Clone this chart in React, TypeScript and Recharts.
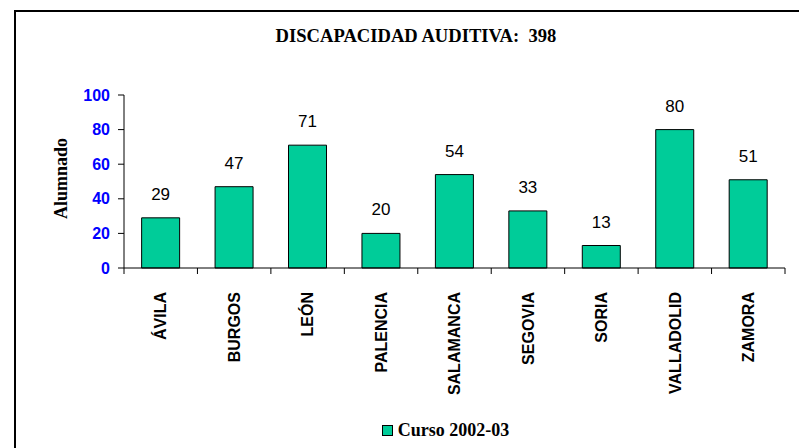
import React from 'react';
import { BarChart, Bar, XAxis, YAxis, LabelList, Legend, Label } from 'recharts';

const provinces = ['ÁVILA', 'BURGOS', 'LEÓN', 'PALENCIA', 'SALAMANCA', 'SEGOVIA', 'SORIA', 'VALLADOLID', 'ZAMORA'];
const alumnado = [29, 47, 71, 20, 54, 33, 13, 80, 51];
const yTicks = [0, 20, 40, 60, 80, 100];
const boundaryTicks = [0, 1, 2, 3, 4, 5, 6, 7, 8, 9];
const seriesName = 'Curso 2002-03';
const title = 'DISCAPACIDAD AUDITIVA:  398';
const yLabel = 'Alumnado';

const data = provinces.map((p, i) => ({ province: p, value: alumnado[i], pos: i + 0.5 }));

const SANS = '"Liberation Sans", Arial, sans-serif';
const SERIF = '"Liberation Serif", "Times New Roman", serif';
const BAR_COLOR = '#00CC99';
const X_TICK_SIZE = 6;

const XTick = (props: any) => {
  const { x, y, payload } = props;
  return (
    <text
      x={x}
      y={y}
      dy="0.36em"
      transform={`rotate(-90, ${x}, ${y})`}
      textAnchor="end"
      fontFamily={SANS}
      fontWeight="bold"
      fontSize={16}
      fill="#000"
    >
      {payload.value}
    </text>
  );
};

// Tick mark at each category boundary, drawn from the axis line downward.
const BoundaryTick = (props: any) => {
  const { x, y } = props;
  return (
    <g>
      <line x1={x} x2={x} y1={y - X_TICK_SIZE} y2={y} stroke="#000" strokeWidth={1} />
    </g>
  );
};

const YLabel = (props: any) => {
  const vb = props.viewBox || { x: 0, y: 0, width: 0, height: 0 };
  const cx = vb.x + vb.width / 2 + 5;
  const cy = vb.y + vb.height / 2 - 3;
  return (
    <text
      x={cx}
      y={cy}
      transform={`rotate(-90, ${cx}, ${cy})`}
      textAnchor="middle"
      fontFamily={SERIF}
      fontWeight="bold"
      fontSize={18}
      fill="#000"
    >
      {yLabel}
    </text>
  );
};

const LegendContent = () => (
  <div
    style={{
      display: 'flex',
      alignItems: 'center',
      justifyContent: 'center',
      height: 30,
      paddingLeft: 92,
      boxSizing: 'border-box',
    }}
  >
    <span
      style={{
        display: 'inline-block',
        width: 9,
        height: 9,
        background: BAR_COLOR,
        border: '1px solid #000',
        marginRight: 5,
      }}
    />
    <span style={{ fontFamily: SERIF, fontWeight: 'bold', fontSize: 18, lineHeight: '18px', color: '#000' }}>
      {seriesName}
    </span>
  </div>
);

export default function App() {
  return (
    <div
      style={{
        position: 'absolute',
        left: 0,
        top: 0,
        width: 799,
        height: 448,
        overflow: 'hidden',
        background: '#fff',
      }}
    >
      <div
        style={{
          position: 'absolute',
          left: 14,
          top: 10,
          width: 820,
          height: 470,
          border: '2px solid #000',
        }}
      />
      <div
        style={{
          position: 'absolute',
          left: 416,
          top: 26,
          transform: 'translateX(-50%)',
          whiteSpace: 'pre',
          fontFamily: SERIF,
          fontWeight: 'bold',
          fontSize: 18.6,
          lineHeight: '19px',
          color: '#000',
        }}
      >
        {title}
      </div>
      <div style={{ position: 'absolute', left: 0, top: 0 }}>
        <BarChart
          width={799}
          height={448}
          data={data}
          margin={{ top: 95, right: 14, left: 0, bottom: 148 }}
          barCategoryGap="24%"
        >
          <XAxis
            xAxisId="bounds"
            dataKey="pos"
            type="number"
            domain={[0, 9]}
            ticks={boundaryTicks}
            allowDataOverflow
            interval={0}
            height={1}
            tickSize={X_TICK_SIZE}
            tickMargin={0}
            tick={<BoundaryTick />}
            axisLine={{ stroke: '#000', strokeWidth: 1 }}
            tickLine={false}
          />
          <XAxis
            xAxisId="cat"
            dataKey="province"
            type="category"
            height={1}
            interval={0}
            axisLine={false}
            tickLine={false}
            tickSize={6}
            tickMargin={17}
            tick={<XTick />}
          />
          <YAxis
            width={124}
            domain={[0, 100]}
            ticks={yTicks}
            interval={0}
            tickSize={6}
            tickMargin={8}
            axisLine={{ stroke: '#000', strokeWidth: 1 }}
            tickLine={{ stroke: '#000', strokeWidth: 1 }}
            tick={{ fill: '#0000FF', fontFamily: SANS, fontWeight: 'bold', fontSize: 16 }}
          >
            <Label content={<YLabel />} />
          </YAxis>
          <Legend
            verticalAlign="bottom"
            height={30}
            wrapperStyle={{ left: 0, bottom: 3, width: 799, height: 30 }}
            content={<LegendContent />}
          />
          <Bar
            xAxisId="cat"
            dataKey="value"
            name={seriesName}
            fill={BAR_COLOR}
            stroke="#000"
            strokeWidth={1}
            isAnimationActive={false}
          >
            <LabelList
              dataKey="value"
              position="top"
              offset={18}
              fill="#000"
              fontFamily={SANS}
              fontSize={17}
            />
          </Bar>
        </BarChart>
      </div>
    </div>
  );
}
